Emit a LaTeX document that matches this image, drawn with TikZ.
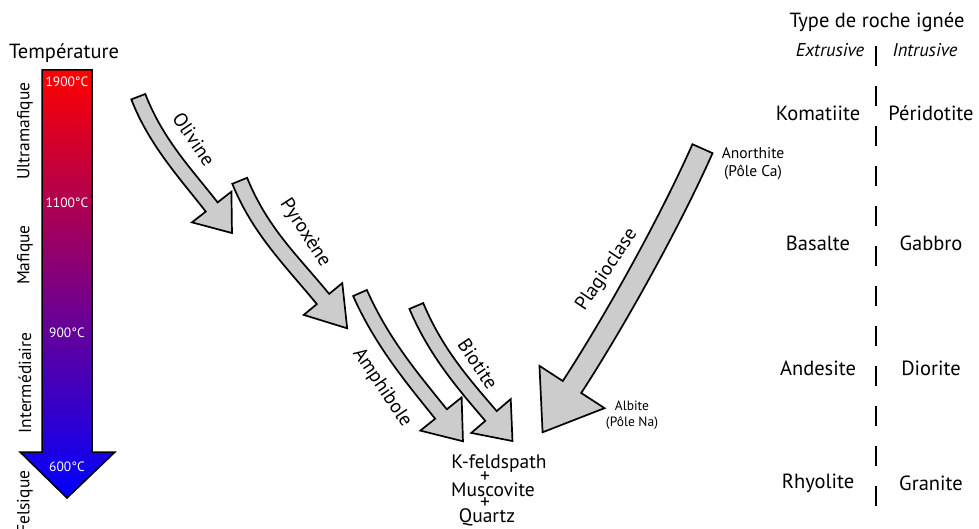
\documentclass[tikz,border=0pt]{standalone}
\usepackage{fontspec}
\setmainfont{PT Sans}
\usetikzlibrary{calc}
\definecolor{arrowgray}{RGB}{204,204,204}
\tikzset{
  mineral/.style={fill=arrowgray, draw=black, line width=1.7pt, line join=miter},
  minlabel/.style={font=\fontsize{19.5}{22}\selectfont, inner sep=0pt},
  templabel/.style={text=white, font=\fontsize{13.5}{15}\selectfont, inner sep=0pt},
  sidelabel/.style={font=\fontsize{17.5}{20}\selectfont, rotate=90, inner sep=0pt},
  rocklabel/.style={font=\fontsize{20.5}{22}\selectfont, inner sep=0pt},
  italabel/.style={font=\fontsize{18.5}{22}\selectfont\itshape, inner sep=0pt},
  prodlabel/.style={font=\fontsize{19.5}{22}\selectfont, inner sep=0pt},
  sepline/.style={line width=1.8pt, dash pattern=on 20pt off 20pt},
}
% #1 start, #2 control 1, #3 control 2, #4 end of shaft, #5 half shaft width, #6 half head base, #7 head length
\newcommand\mineralarrow[7]{%
  \coordinate (q0) at #1;
  \coordinate (q1) at #2;
  \coordinate (q2) at #3;
  \coordinate (q3) at #4;
  \coordinate (l0) at ($(q0)!#5!-90:(q1)$);
  \coordinate (r0) at ($(q0)!#5!90:(q1)$);
  \coordinate (l3) at ($(q3)!#5!90:(q2)$);
  \coordinate (r3) at ($(q3)!#5!-90:(q2)$);
  \coordinate (bl) at ($(q3)!#6!90:(q2)$);
  \coordinate (br) at ($(q3)!#6!-90:(q2)$);
  \coordinate (tp) at ($(q3)!#7!180:(q2)$);
  \draw[mineral] (l0) .. controls ($(q1)+(l0)-(q0)$) and ($(q2)+(l3)-(q3)$) .. (l3)
     -- (bl) -- (tp) -- (br) -- (r3)
     .. controls ($(q2)+(r3)-(q3)$) and ($(q1)+(r0)-(q0)$) .. (r0) -- cycle;
}
\begin{document}
\begin{tikzpicture}[x=1pt, y=-1pt]
\fill[white] (0,0) rectangle (979,529);
\useasboundingbox (0,0) rectangle (979,529);

% temperature arrow
\shade[top color=red, bottom color=blue, draw=black, line width=1.5pt, line join=miter]
  (42,70) -- (92,70) -- (92,452) -- (115,452) -- (67,498) -- (20,452) -- (42,452) -- cycle;
\node[font=\fontsize{20.5}{22}\selectfont, inner sep=0pt] (temp) at (64,53) {Température};
\node[templabel] (t1900) at (67,82) {1900°C};
\node[templabel] (t1100) at (67,203) {1100°C};
\node[templabel] (t900) at (67,333) {900°C};
\node[templabel] (t600) at (67,467) {600°C};

\node[sidelabel] (ultra) at (25,131) {Ultramafique};
\node[sidelabel] (maf) at (25,255) {Mafique};
\node[sidelabel] (inter) at (25,383) {Intermédiaire};
\node[sidelabel] (fel) at (25,502) {Felsique};

% mineral arrows
\mineralarrow{(138.3,96.7)}{(156,142.4)}{(186,174)}{(211.7,207)}{7.5pt}{25pt}{33pt}
\mineralarrow{(239.7,180.8)}{(260,230.6)}{(290,259)}{(323,299)}{8pt}{25pt}{38pt}
\mineralarrow{(360,293)}{(382,342.4)}{(412,378)}{(441,414)}{7.5pt}{26.5pt}{35pt}
\mineralarrow{(416.3,306)}{(435.5,351.3)}{(461,381)}{(491,416)}{7.5pt}{26pt}{33pt}
\mineralarrow{(702.5,148.7)}{(670,221.8)}{(615.6,319.9)}{(572,387)}{11pt}{38.8pt}{54pt}

\node[minlabel, rotate=-56] (oli) at (194,139) {Olivine};
\node[minlabel, rotate=-57] (pyr) at (305,233) {Pyroxène};
\node[minlabel, rotate=-56] (amp) at (382,388) {Amphibole};
\node[minlabel, rotate=-56] (bio) at (478,364) {Biotite};
\node[minlabel, rotate=56] (pla) at (607,270) {Plagioclase};

\node[font=\fontsize{15.5}{18}\selectfont, align=center, inner sep=0pt] (anor) at (753,164) {Anorthite\\(Pôle Ca)};
\node[font=\fontsize{13.5}{16.5}\selectfont, align=center, inner sep=0pt] (alb) at (632,415) {Albite\\(Pôle Na)};

\node[prodlabel] (kf) at (499,464) {K-feldspath};
\node[prodlabel] (plus1) at (485,477) {+};
\node[prodlabel] (mus) at (493,490) {Muscovite};
\node[prodlabel] (plus2) at (485,503) {+};
\node[prodlabel] (qz) at (487,517) {Quartz};

% rock types
\node[rocklabel] (type) at (877,22) {Type de roche ignée};
\node[italabel] (ext) at (830,50) {Extrusive};
\node[italabel] (intr) at (925,50) {Intrusive};
\node[rocklabel] (kom) at (818,113) {Komatiite};
\node[rocklabel] (per) at (931,113) {Péridotite};
\node[rocklabel] (bas) at (818,243) {Basalte};
\node[rocklabel] (gab) at (931,243) {Gabbro};
\node[rocklabel] (and) at (818,368) {Andesite};
\node[rocklabel] (dio) at (931,368) {Diorite};
\node[rocklabel] (rhy) at (818,483) {Rhyolite};
\node[rocklabel] (gra) at (931,483) {Granite};

\coordinate (septop) at (876,46);
\coordinate (sepbot) at (876,514);
\draw[sepline] (septop) -- (sepbot);
\end{tikzpicture}
\end{document}
